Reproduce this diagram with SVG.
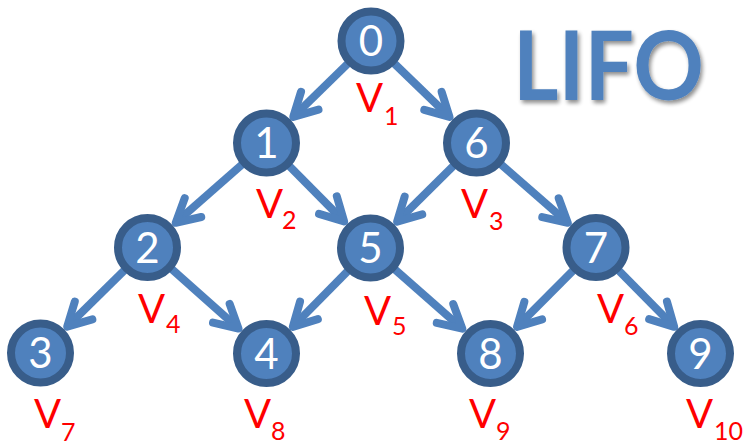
<svg xmlns="http://www.w3.org/2000/svg" width="746" height="443" viewBox="0 0 746 443">
<defs>
<style>
.edge{stroke:#4F81BD;stroke-width:8;fill:none;marker-end:url(#arr)}
.node circle{fill:#4F81BD;stroke:#385D8A;stroke-width:8}
.node text{fill:#FFFFFF;font-family:Lato,"Open Sans",sans-serif;font-size:42px;text-anchor:middle}
.lbl{fill:#FF0000;font-family:Lato,"Open Sans",sans-serif;font-size:40px}
.sub{font-size:25px}
.title{fill:#4F81BD;font-family:Lato,"Open Sans",sans-serif;font-weight:700;font-size:96px}
</style>
<marker id="arr" markerUnits="userSpaceOnUse" orient="auto" refX="0" refY="0" markerWidth="40" markerHeight="40" overflow="visible">
<path d="M -23,-12.5 L 0,0 L -23,12.5" fill="none" stroke="#4F81BD" stroke-width="8" stroke-linecap="round" stroke-linejoin="round"/>
</marker>
<filter id="shadow" x="-10%" y="-10%" width="130%" height="140%">
<feGaussianBlur in="SourceAlpha" stdDeviation="2"/>
<feOffset dx="2" dy="3" result="b"/>
<feComponentTransfer><feFuncA type="linear" slope="0.45"/></feComponentTransfer>
<feMerge><feMergeNode/><feMergeNode in="SourceGraphic"/></feMerge>
</filter>
</defs>
<rect width="746" height="443" fill="#FFFFFF"/>
<text class="title" x="513" y="100" textLength="191" lengthAdjust="spacingAndGlyphs" filter="url(#shadow)">LIFO</text>
<g id="connectors">
<line class="edge" x1="371" y1="41" x2="293.3" y2="116.8"/>
<line class="edge" x1="371" y1="41" x2="449.5" y2="116.9"/>
<line class="edge" x1="266.5" y1="143" x2="175.7" y2="222.8"/>
<line class="edge" x1="266.5" y1="143" x2="344.1" y2="221.4"/>
<line class="edge" x1="476.5" y1="143" x2="397.1" y2="221.6"/>
<line class="edge" x1="476.5" y1="143" x2="567.8" y2="222.8"/>
<line class="edge" x1="147.5" y1="247.5" x2="67.2" y2="326.7"/>
<line class="edge" x1="147.5" y1="247.5" x2="238.5" y2="328.6"/>
<line class="edge" x1="370.5" y1="248" x2="292.8" y2="326.8"/>
<line class="edge" x1="370.5" y1="248" x2="462.3" y2="328.7"/>
<line class="edge" x1="596" y1="247.5" x2="517" y2="326.9"/>
<line class="edge" x1="596" y1="247.5" x2="674.2" y2="326.8"/>
</g>
<g id="n0" class="node"><circle cx="371" cy="41" r="29.5"/><text x="371" y="56">0</text></g>
<g id="n1" class="node"><circle cx="266.5" cy="143" r="29.5"/><text x="266.5" y="158">1</text></g>
<g id="n6" class="node"><circle cx="476.5" cy="143" r="29.5"/><text x="476.5" y="158">6</text></g>
<g id="n2" class="node"><circle cx="147.5" cy="247.5" r="29.5"/><text x="147.5" y="262.5">2</text></g>
<g id="n5" class="node"><circle cx="370.5" cy="248" r="29.5"/><text x="370.5" y="263">5</text></g>
<g id="n7" class="node"><circle cx="596" cy="247.5" r="29.5"/><text x="596" y="262.5">7</text></g>
<g id="n3" class="node"><circle cx="40.5" cy="353" r="29.5"/><text x="40.5" y="368">3</text></g>
<g id="n4" class="node"><circle cx="266.5" cy="353.5" r="29.5"/><text x="266.5" y="368.5">4</text></g>
<g id="n8" class="node"><circle cx="490.5" cy="353.5" r="29.5"/><text x="490.5" y="368.5">8</text></g>
<g id="n9" class="node"><circle cx="700.5" cy="353.5" r="29.5"/><text x="700.5" y="368.5">9</text></g>
<g id="labels">
<text class="lbl" x="356" y="112">V<tspan class="sub" x="384" y="125">1</tspan></text>
<text class="lbl" x="256" y="218">V<tspan class="sub" x="282" y="229">2</tspan></text>
<text class="lbl" x="461" y="218">V<tspan class="sub" x="489" y="230">3</tspan></text>
<text class="lbl" x="138" y="323">V<tspan class="sub" x="166" y="333">4</tspan></text>
<text class="lbl" x="364" y="325">V<tspan class="sub" x="392" y="335">5</tspan></text>
<text class="lbl" x="597" y="323">V<tspan class="sub" x="624" y="335">6</tspan></text>
<text class="lbl" x="34" y="428">V<tspan class="sub" x="61" y="441">7</tspan></text>
<text class="lbl" x="244" y="428">V<tspan class="sub" x="271" y="440">8</tspan></text>
<text class="lbl" x="469" y="428">V<tspan class="sub" x="496" y="440">9</tspan></text>
<text class="lbl" x="686" y="428">V<tspan class="sub" x="714" y="440">10</tspan></text>
</g>
</svg>
